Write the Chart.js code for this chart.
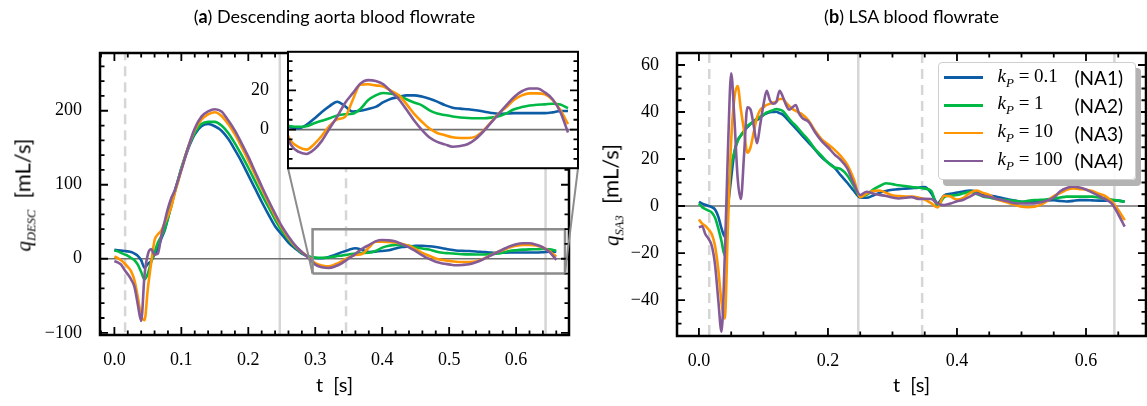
<!DOCTYPE html>
<html>
<head>
<meta charset="utf-8">
<script src="https://cdn.jsdelivr.net/npm/chart.js@4.4.1/dist/chart.umd.min.js"></script>
<style>
  html, body { margin: 0; padding: 0; background: #fff; }
  #fig { position: relative; width: 1147px; height: 406px; overflow: hidden; background: #fff; }
  #fig canvas { position: absolute; }
  .title { position: absolute; top: 5px; width: 469px; text-align: center; font: 18px Lato, sans-serif; color: #000; }
  .xlabel { position: absolute; top: 372px; width: 469px; text-align: center; font: 20px Lato, sans-serif; white-space: pre; }
  .ylabel { position: absolute; transform: translate(-50%, -50%) rotate(-90deg); font: 22px Lato, sans-serif; white-space: pre; }
  .m { font-family: 'Liberation Serif', serif; font-style: italic; font-size: 21px; }
  .m sub { font-size: 12.5px; }
  #legend { position: absolute; left: 938px; top: 62px; width: 198px; height: 118px; box-sizing: border-box;
            border: 1.5px solid #cfcfcf; border-radius: 4px; background: rgba(255,255,255,0.92);
            box-shadow: 5px 6px 0 #b3b3b3; }
  #legend .row { position: absolute; left: 4.5px; height: 28px; display: flex; align-items: center; }
  #legend .sw { width: 39px; height: 2.6px; margin-right: 15px; }
  #legend .kp { width: 77px; font: 19px 'Liberation Serif', serif; white-space: nowrap; }
  #legend .kp sub { font-size: 13px; }
  #legend .na { font: 19px Lato, sans-serif; }
</style>
</head>
<body>
<div id="fig">
  <canvas id="chartA" width="600" height="406" style="left:0;top:0"></canvas>
  <canvas id="chartB" width="547" height="406" style="left:600px;top:0"></canvas>
  <canvas id="chartInset" width="345" height="160" style="left:240px;top:30px"></canvas>
  <div class="title" style="left:100px">(<b>a</b>) Descending aorta blood flowrate</div>
  <div class="title" style="left:677px">(<b>b</b>) LSA blood flowrate</div>
  <div class="xlabel" style="left:100px">t  [s]</div>
  <div class="xlabel" style="left:677px">t  [s]</div>
  <div class="ylabel" style="left:24px;top:195px"><span class="m">q<sub>DESC</sub></span>  [mL/s]</div>
  <div class="ylabel" style="left:612px;top:195px"><span class="m">q<sub>SA3</sub></span>  [mL/s]</div>
  <div id="legend"></div>
</div>
<script>
// series names / colours
const caseNames = ['NA1', 'NA2', 'NA3', 'NA4'];
const kpValues = ['0.1', '1', '10', '100'];
const colors = ['#0C5DA5', '#00B945', '#FF9500', '#845B97'];

// (a) descending aorta, time [s]
const tDesc = [0, 0.005, 0.01, 0.015, 0.02, 0.025, 0.03, 0.035, 0.04, 0.045, 0.05, 0.055, 0.06, 0.065, 0.07, 0.075, 0.08, 0.085, 0.09, 0.095, 0.1,
  0.11, 0.12, 0.13, 0.14, 0.15, 0.16, 0.17, 0.18, 0.19, 0.2, 0.21, 0.22, 0.23, 0.24, 0.25, 0.26, 0.27, 0.28, 0.29,
  0.3, 0.31, 0.32, 0.33, 0.34, 0.35, 0.36, 0.37, 0.38, 0.39, 0.4, 0.41, 0.42, 0.43, 0.44, 0.45, 0.46, 0.47, 0.48, 0.49,
  0.5, 0.51, 0.52, 0.53, 0.54, 0.55, 0.56, 0.57, 0.58, 0.59, 0.6, 0.61, 0.62, 0.63, 0.64, 0.65, 0.66];
const descNA1 = [12, 11.5, 11, 10.5, 10, 9, 7, 4, -2, -12, -7, -3, 6, 14, 27, 38, 55, 72, 90, 106, 122,
  148, 168, 179, 182, 179, 173, 162, 147, 131, 113, 95, 77, 60, 44, 33, 22, 14, 7, 3,
  1, 0.7, 2.4, 5.5, 9, 12, 14.2, 12, 9.2, 9.6, 10.5, 11.6, 14, 15.8, 16.6, 17.5, 17.5, 16.9, 15.8, 14.3,
  12.5, 11.2, 10.7, 10.4, 9.9, 9.2, 8.5, 8.1, 8.2, 8.4, 8.4, 8.4, 8.4, 8.4, 8.8, 9.5, 9.5];
const descNA2 = [11, 10, 8, 6, 4, 1, -2, -8, -18, -28, -20, -4, 9, 22, 30, 40, 55, 72, 90, 106, 122,
  150, 170, 182, 185, 185, 180, 170, 156, 140, 123, 105, 87, 70, 53, 38, 26, 16, 8, 3,
  1.7, 1.4, 1.7, 3.2, 4.5, 5.8, 7.2, 7.8, 8.1, 10.5, 15, 17.5, 18.7, 18.3, 17.5, 15.5, 13.8, 12.4, 9.8, 8.2,
  7.4, 6.7, 6.2, 5.9, 5.8, 5.8, 6.1, 6.8, 8.3, 10.4, 11.5, 12.3, 12.7, 12.9, 13.2, 12.8, 10.9];
const descNA3 = [3, 1, -2, -6, -11, -17, -29, -52, -77, -83, -40, -5, 25, 33, 38, 48, 58, 70, 88, 104, 120,
  150, 174, 188, 195, 198, 193, 182, 168, 151, 133, 114, 95, 76, 58, 42, 28, 17, 9, 2,
  -6, -9, -10.3, -7.5, -3.2, 1.9, 5.2, 6.4, 15, 23, 23.2, 22.6, 22, 19.8, 17.5, 13, 8, 4, 0.5, -1.8,
  -2.9, -4, -4.3, -4.3, -3.6, -0.6, 3.8, 8.3, 11.5, 15.3, 17.5, 18.5, 18.5, 18, 15.2, 10, 2.8];
const descNA4 = [-3, -5, -8, -15, -21, -28, -38, -62, -84, -22, 6, 13, 5.5, 7, 31, 50, 68, 82, 92, 106, 120,
  150, 176, 192, 199, 202, 199, 187, 173, 156, 138, 118, 98, 79, 61, 44, 30, 18, 9, 1,
  -8, -11.5, -12.5, -10.2, -5.8, 0.5, 6.6, 13.5, 18.5, 23.5, 25.3, 24.9, 23.2, 19.4, 15.5, 10.2, 4.6, -0.2, -4.1, -6.3,
  -7.6, -8.8, -8.4, -7.4, -4.8, -1, 3.5, 8, 12.5, 16.7, 19.6, 21, 21, 19, 15.5, 9, -1.5];

// (b) LSA, time [s]
const tSa3 = [0, 0.005, 0.01, 0.015, 0.02, 0.025, 0.03, 0.035, 0.04, 0.045, 0.05, 0.055, 0.06, 0.065, 0.07, 0.075, 0.08,
  0.085, 0.09, 0.095, 0.1, 0.105, 0.11, 0.115, 0.12, 0.125, 0.13, 0.135, 0.14, 0.145, 0.15, 0.155, 0.16,
  0.17, 0.18, 0.19, 0.2, 0.21, 0.22, 0.23, 0.24, 0.25, 0.26, 0.27, 0.28, 0.29, 0.3, 0.31, 0.32, 0.33, 0.34, 0.35,
  0.36, 0.37, 0.38, 0.39, 0.4, 0.41, 0.42, 0.43, 0.44, 0.45, 0.46, 0.47, 0.48, 0.49, 0.5, 0.51, 0.52, 0.53, 0.54,
  0.55, 0.56, 0.57, 0.58, 0.59, 0.6, 0.61, 0.62, 0.63, 0.64, 0.65, 0.66];
const sa3NA1 = [1.8, 1, 0.5, 0, -0.5, -1.5, -4.5, -9.5, -13, 0, 12, 23, 28, 30, 31.8, 33.5, 35,
  36, 36.6, 37.6, 38.7, 39.4, 39.9, 40, 40.1, 39.5, 38.9, 37.5, 36, 34.5, 33, 31.5, 30,
  27, 24, 20.8, 18.5, 16.4, 13, 9.9, 6.5, 3.6, 3.5, 4.5, 5.6, 6.4, 6.9, 7.2, 7.4, 7.6, 7.8, 8.1,
  5.5, 1.2, 4.5, 5.2, 5.7, 6.2, 6.6, 6.2, 5.1, 4.5, 4, 3.4, 2.8, 2.3, 1.8, 1.8, 1.8, 2.1, 2.4,
  2.5, 2.1, 1.9, 2.2, 2.5, 2.5, 2.4, 2.3, 2.3, 2.5, 2.3, 1.8];
const sa3NA2 = [1.1, -0.5, -1.3, -2, -2.8, -5, -9.5, -15, -21, 3, 17, 23, 27.5, 30, 32, 34, 35,
  36, 37.3, 38, 38.8, 39.8, 40.3, 40.8, 41.3, 41, 40.4, 38.8, 37, 35.5, 34.2, 32.6, 31,
  28, 24.2, 21.4, 18.4, 16.4, 15.7, 13, 8.5, 4.1, 4.7, 7, 8.5, 9.7, 9.3, 8.8, 8.5, 8.1, 7.8, 7.4,
  6.4, 0, 3.8, 4.4, 4.7, 5.4, 6.1, 5.2, 4.1, 3.6, 3, 2.7, 2.4, 2.2, 1.8, 2.2, 2.5, 2.6, 2.9,
  3.3, 3.6, 4, 4, 4, 4, 4, 3.6, 3.1, 2.7, 2.3, 1.8];
const sa3NA3 = [-5.7, -7.5, -8.5, -10, -12, -17, -27, -41, -47.8, -8, 28, 46, 51, 41, 32, 22.7, 25,
  31.6, 37.6, 40.9, 42, 43, 43.5, 44, 44.4, 45.5, 45.5, 44, 42.5, 41.3, 40.5, 39.7, 39,
  36.4, 32, 28.5, 26.3, 24, 21.2, 17.5, 11.5, 3.8, 5.3, 6.4, 6.6, 5.6, 4.6, 4.2, 4, 4, 3.6, 2.8,
  1.2, -0.6, 4.4, 4, 2.7, 3.5, 5.5, 6.6, 5.6, 4.7, 3, 2.1, 1.3, 0.5, -0.3, -0.5, -0.3, 0.6, 2.2,
  4.2, 5.5, 6.9, 7.5, 7.2, 6.9, 6.4, 5.2, 4.2, 2, -1.7, -6];
const sa3NA4 = [-9.1, -8.6, -12, -14, -17, -25, -40, -53.5, -22, 24, 56.5, 37, 12, 3, 22, 42, 41,
  34, 26.7, 34.7, 43, 49, 45, 43.5, 44.3, 49, 46.5, 43, 41, 42, 43, 39.5, 37.5,
  35.8, 31.4, 27.7, 25, 22, 19.5, 16, 9.5, 4.7, 6.1, 5.3, 4.7, 4.3, 3.6, 3.2, 3.5, 3.8, 3, 3.1,
  3, 1, 0.4, 1.1, 2, 2.7, 4, 5.3, 4.3, 3.9, 3.1, 2.6, 1.9, 1.2, 1.1, 1.1, 1.1, 1.6, 2.4,
  3.6, 6.3, 7.7, 8.2, 7.9, 7, 5.7, 4.3, 2.8, 1, -3.5, -8.8];

// reference instants (valve events) [s]
const markerT = [0.016, 0.247, 0.346, 0.644];
const markerDashed = [true, false, true, false];

// zoomed window of panel (a)
const zoomT = [0.296, 0.673];
const zoomQ = [-19.8, 39.8];

// axis ranges
const rangeA = { x: [-0.0215, 0.679], y: [-103, 278] };
const rangeB = { x: [-0.034, 0.693], y: [-55.3, 65.1] };

Chart.defaults.font.family = "'Liberation Serif', serif";
Chart.defaults.font.size = 18;
Chart.defaults.color = '#000';

const pts = (t, q) => t.map((v, i) => ({ x: v, y: q[i] }));
const fmt = (v, dec) => { v = Math.round(v * 1e6) / 1e6; return (v < 0 ? '\u2212' : '') + Math.abs(v).toFixed(dec); };
const majorOnly = (step, dec) => v => Math.abs(v / step - Math.round(v / step)) < 1e-6 ? fmt(v, dec) : '';

function curveSets(t, series) {
  return series.map((q, i) => ({
    data: pts(t, q), borderColor: colors[i], borderWidth: 2.6, pointRadius: 0,
    cubicInterpolationMode: 'monotone', order: 4 - i
  }));
}
function zeroSet(w) {
  return { data: [{ x: -1, y: 0 }, { x: 1, y: 0 }], borderColor: '#707070', borderWidth: w || 1.3, pointRadius: 0, order: 15 };
}
function refSets() {
  const sets = markerT.map((t, i) => ({
    data: [{ x: t, y: -1e4 }, { x: t, y: 1e4 }], borderColor: '#d6d6d6', borderWidth: 2.5,
    borderDash: markerDashed[i] ? [10, 6] : [], pointRadius: 0, order: 20
  }));
  sets.push(zeroSet());
  return sets;
}

// inward ticks on every side + black frame
const frameTicks = {
  id: 'frameTicks',
  afterDraw(chart, args, opts) {
    const { ctx, chartArea: a, scales } = chart;
    ctx.save();
    ctx.strokeStyle = '#000';
    ctx.lineWidth = 1.8;
    ['x', 'y'].forEach(id => {
      if (opts.skip && opts.skip.includes(id)) return;
      const s = scales[id];
      s.ticks.forEach(tk => {
        const len = tk.label !== '' ? 8 : 4.5;
        const p = s.getPixelForValue(tk.value);
        ctx.beginPath();
        if (id === 'x') {
          if (p < a.left + 1 || p > a.right - 1) return;
          ctx.moveTo(p, a.bottom); ctx.lineTo(p, a.bottom - len);
          ctx.moveTo(p, a.top); ctx.lineTo(p, a.top + len);
        } else {
          if (p < a.top + 1 || p > a.bottom - 1) return;
          ctx.moveTo(a.left, p); ctx.lineTo(a.left + len, p);
          ctx.moveTo(a.right, p); ctx.lineTo(a.right - len, p);
        }
        ctx.stroke();
      });
    });
    ctx.lineWidth = opts.frame || 2.5;
    ctx.strokeRect(a.left, a.top, a.right - a.left, a.bottom - a.top);
    ctx.restore();
  }
};

// white face for the inset axes
const whiteFace = {
  id: 'whiteFace',
  beforeDraw(chart) {
    const { ctx, chartArea: a } = chart;
    ctx.save();
    ctx.fillStyle = '#fff';
    ctx.fillRect(a.left, a.top, a.right - a.left, a.bottom - a.top);
    ctx.restore();
  }
};

function axisX(range, step, major, dec, h) {
  return {
    type: 'linear', min: range[0], max: range[1],
    afterFit: s => { s.height = h; },
    grid: { display: false }, border: { display: false },
    ticks: { stepSize: step, autoSkip: false, maxRotation: 0, minRotation: 0, includeBounds: false,
             maxTicksLimit: 1000, padding: 6, callback: majorOnly(major, dec) }
  };
}
function axisY(range, step, major, w, pad) {
  return {
    type: 'linear', min: range[0], max: range[1],
    afterFit: s => { s.width = w; },
    grid: { display: false }, border: { display: false },
    ticks: { stepSize: step, autoSkip: false, includeBounds: false, maxTicksLimit: 1000, padding: pad || 10,
             callback: majorOnly(major, 0) }
  };
}
const baseOpts = { responsive: false, animation: false, events: [],
  plugins: { legend: { display: false }, tooltip: { enabled: false } } };

const seriesA = [descNA1, descNA2, descNA3, descNA4];
const seriesB = [sa3NA1, sa3NA2, sa3NA3, sa3NA4];

// inset of panel (a)
const inset = new Chart(document.getElementById('chartInset'), {
  type: 'line',
  data: { datasets: curveSets(tDesc, seriesA).concat([zeroSet(1.8)]) },
  options: Object.assign({}, baseOpts, {
    layout: { padding: { top: 10, right: 7, bottom: 10, left: 0 } },
    plugins: Object.assign({}, baseOpts.plugins, { frameTicks: { skip: ['x'], frame: 2 } }),
    scales: {
      x: { type: 'linear', min: zoomT[0], max: zoomT[1], display: false },
      y: axisY(zoomQ, 5, 20, 48, 11)
    }
  }),
  plugins: [whiteFace, frameTicks]
});

// connector lines from the zoom box towards the inset
const insetLinks = {
  id: 'insetLinks',
  afterDraw(chart) {
    const { ctx, scales: { x, y } } = chart;
    const el = document.getElementById('chartInset');
    const ia = inset.chartArea;
    const ox = el.offsetLeft, oy = el.offsetTop;
    ctx.save();
    ctx.strokeStyle = '#8c8c8c';
    ctx.lineWidth = 2;
    ctx.beginPath();
    ctx.moveTo(ox + ia.left, oy + ia.bottom); ctx.lineTo(x.getPixelForValue(zoomT[0]), y.getPixelForValue(zoomQ[0]));
    ctx.moveTo(ox + ia.right, oy + ia.bottom); ctx.lineTo(x.getPixelForValue(zoomT[1]), y.getPixelForValue(zoomQ[0]));
    ctx.stroke();
    ctx.restore();
  }
};

const zoomBox = {
  data: [{ x: zoomT[0], y: zoomQ[0] }, { x: zoomT[1], y: zoomQ[0] }, { x: zoomT[1], y: zoomQ[1] },
         { x: zoomT[0], y: zoomQ[1] }, { x: zoomT[0], y: zoomQ[0] }],
  borderColor: '#8c8c8c', borderWidth: 2.5, pointRadius: 0, order: 0, clip: false
};

new Chart(document.getElementById('chartA'), {
  type: 'line',
  data: { datasets: curveSets(tDesc, seriesA).concat(refSets(), [zoomBox]) },
  options: Object.assign({}, baseOpts, {
    layout: { padding: { top: 53, right: 31, bottom: 0, left: 0 } },
    plugins: Object.assign({}, baseOpts.plugins, { frameTicks: {} }),
    scales: { x: axisX(rangeA.x, 0.02, 0.1, 1, 71), y: axisY(rangeA.y, 20, 100, 100) }
  }),
  plugins: [frameTicks, insetLinks]
});

new Chart(document.getElementById('chartB'), {
  type: 'line',
  data: { datasets: curveSets(tSa3, seriesB).concat(refSets()) },
  options: Object.assign({}, baseOpts, {
    layout: { padding: { top: 53, right: 1, bottom: 0, left: 0 } },
    plugins: Object.assign({}, baseOpts.plugins, { frameTicks: {} }),
    scales: { x: axisX(rangeB.x, 0.05, 0.2, 1, 70), y: axisY(rangeB.y, 5, 20, 77) }
  }),
  plugins: [frameTicks]
});

// legend of panel (b)
const legend = document.getElementById('legend');
caseNames.forEach((name, i) => {
  const row = document.createElement('div');
  row.className = 'row';
  row.style.top = (0.5 + 27.8 * i) + 'px';
  row.innerHTML = `<span class="sw" style="background:${colors[i]}"></span>` +
    `<span class="kp"><i>k</i><sub><i>P</i></sub> = ${kpValues[i]}</span><span class="na">(${name})</span>`;
  legend.appendChild(row);
});
</script>
</body>
</html>
